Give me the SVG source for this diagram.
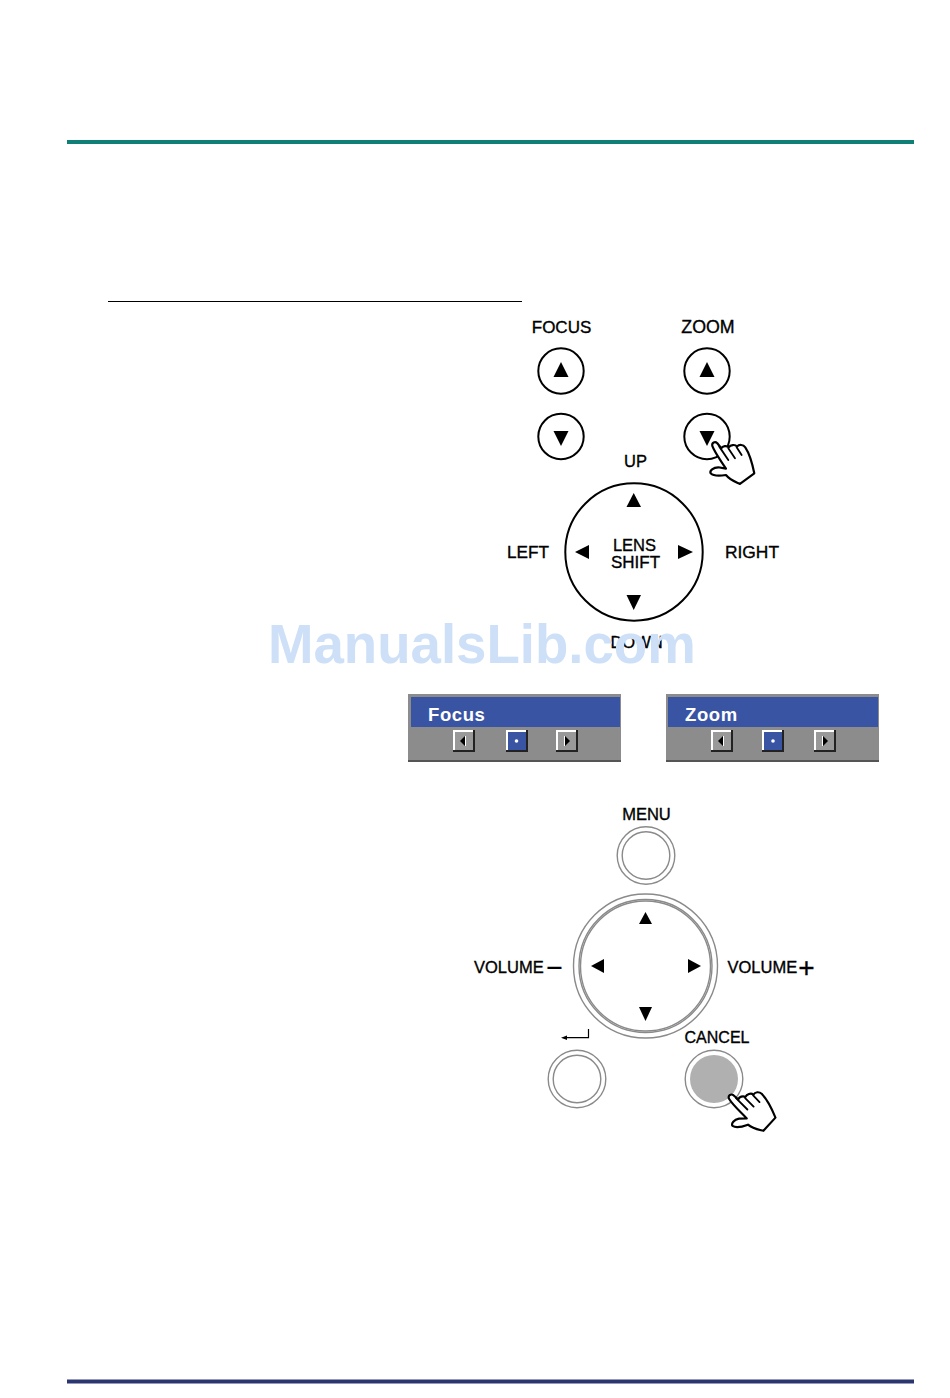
<svg xmlns="http://www.w3.org/2000/svg" width="950" height="1398" viewBox="0 0 950 1398">
<style>
.l{font-family:"Liberation Sans",Arial,sans-serif;font-size:16.5px;fill:#000;stroke:#000;stroke-width:.35}
.c{text-anchor:middle}
.b{fill:#fff;stroke:#000;stroke-width:2}
.g{fill:#fff;stroke:#8a8a8a;stroke-width:1.4}
.t{fill:#000}
.pt{font-family:"Liberation Sans",Arial,sans-serif;font-weight:700;font-size:18.5px;letter-spacing:.6px;fill:#fff}
.hand{fill:#fff;stroke:#000;stroke-width:6.500;stroke-linejoin:round;stroke-linecap:round}
.fing{fill:none;stroke:#000;stroke-width:5.500;stroke-linecap:round}
.btn{fill:#999;stroke:none}
.hl{fill:#fff}.sd{fill:#222}
</style>
<defs>
<g id="handShape">
<path class="hand" d="M-3,11C-5,1 5,-4 12,3L24,18C28,11 40,9 46,15C52,8 65,5 71,13C78,5 90,7 96,15C108,33 118,68 123,93L80,125C65,118 50,113 38,98C20,101 0,101 -8,93C-12,85 0,75 15,75L38,79C25,58 5,33 -3,11Z"/>
<path class="fing" d="M18,13L45,53M45,18L65,48M70,15L85,38"/>
</g>
<g id="btnFrame">
<rect class="sd" x="0" y="0" width="22" height="22"/>
<rect class="hl" x="0" y="0" width="20" height="20"/>
<rect class="btn" x="2" y="2" width="18" height="18"/>
</g>
</defs>

<g id="page-rules">
<rect x="67" y="140" width="847" height="4" fill="#0f7f78"/>
<rect x="67" y="1379.500" width="847" height="4" fill="#2b3570"/>
<rect x="108" y="301" width="414" height="1" fill="#000"/>
</g>

<g id="focus-zoom-buttons">
<text class="l c" x="561.500" y="333" font-size="17" style="font-size:17px">FOCUS</text>
<text class="l c" x="708" y="333" style="font-size:17.800px">ZOOM</text>
<circle class="b" cx="561" cy="371" r="22.700"/>
<polygon class="t" points="561,362 568.500,377 553.500,377"/>
<circle class="b" cx="561" cy="436.500" r="22.700"/>
<polygon class="t" points="553.500,431 568.500,431 561,446"/>
<circle class="b" cx="707" cy="371" r="22.700"/>
<polygon class="t" points="707,362 714.500,377 699.500,377"/>
<circle class="b" cx="707" cy="436.500" r="22.700"/>
<polygon class="t" points="699.500,431 714.500,431 707,446"/>
<use href="#handShape" transform="translate(713.300,442.300) scale(.3333)"/>
</g>

<g id="lens-shift">
<circle class="b" cx="634" cy="552" r="68.700"/>
<polygon class="t" points="633.700,493 641,507 626.500,507"/>
<polygon class="t" points="575,552 589,545 589,559"/>
<polygon class="t" points="693,552 678,545 678,559"/>
<polygon class="t" points="626.500,595 641,595 633.700,610"/>
<text class="l c" x="635.500" y="467">UP</text>
<text class="l c" x="528" y="558" style="font-size:17.200px">LEFT</text>
<text class="l c" x="752" y="558" style="font-size:17.400px">RIGHT</text>
<text class="l c" x="634.500" y="551">LENS</text>
<text class="l c" x="635.500" y="568" style="font-size:17px">SHIFT</text>
<text class="l c" x="636.500" y="648">DOWN</text>
</g>

<g id="focus-panel">
<rect x="408" y="694" width="213" height="68" fill="#8c8c8c"/>
<rect x="408" y="760" width="213" height="2" fill="#555"/>
<rect x="411" y="697" width="209" height="30" fill="#3a54a4"/>
<text class="pt" x="428" y="721">Focus</text>
<use href="#btnFrame" x="453" y="730"/>
<polygon class="t" points="460,741 465,736 465,746"/>
<rect x="465" y="736" width="1" height="10" fill="#fff"/>
<use href="#btnFrame" x="506" y="730"/>
<rect x="508" y="732" width="18" height="18" fill="#3a54a4"/>
<circle cx="516.500" cy="741" r="1.800" fill="#fff"/>
<use href="#btnFrame" x="556" y="730"/>
<polygon class="t" points="570,741 565,736 565,746"/>
<rect x="564" y="736" width="1" height="10" fill="#fff"/>
</g>

<g id="zoom-panel">
<rect x="666" y="694" width="213" height="68" fill="#8c8c8c"/>
<rect x="666" y="760" width="213" height="2" fill="#555"/>
<rect x="668" y="697" width="210" height="30" fill="#3a54a4"/>
<text class="pt" x="685" y="721">Zoom</text>
<use href="#btnFrame" x="711" y="730"/>
<polygon class="t" points="718,741 723,736 723,746"/>
<rect x="723" y="736" width="1" height="10" fill="#fff"/>
<use href="#btnFrame" x="762" y="730"/>
<rect x="764" y="732" width="18" height="18" fill="#3a54a4"/>
<circle cx="773" cy="741" r="1.800" fill="#fff"/>
<use href="#btnFrame" x="814" y="730"/>
<polygon class="t" points="828,741 823,736 823,746"/>
<rect x="822" y="736" width="1" height="10" fill="#fff"/>
</g>

<g id="menu-button">
<text class="l c" x="646.500" y="819.500">MENU</text>
<circle class="g" cx="646" cy="855.500" r="28.800"/>
<circle class="g" cx="646" cy="855.500" r="23.800"/>
</g>

<g id="volume-pad">
<circle class="g" cx="645.500" cy="966" r="72"/>
<circle class="g" cx="645.500" cy="966" r="66.500"/>
<circle class="g" cx="645.500" cy="966" r="65"/>
<polygon class="t" points="645.500,912 652,924 639,924"/>
<polygon class="t" points="591,966 604,959 604,973"/>
<polygon class="t" points="701,966 688,959 688,973"/>
<polygon class="t" points="639,1007 652,1007 645.500,1021"/>
<text class="l" x="474" y="972.500">VOLUME<tspan style="font-size:28px" dx="2.500" dy="4.500">−</tspan></text>
<text class="l" x="727.500" y="972.500">VOLUME<tspan style="font-size:28px" dx="1" dy="4.500">+</tspan></text>
</g>

<g id="enter-button">
<path d="M566,1037.700H588.500V1029" fill="none" stroke="#000" stroke-width="1.200"/>
<polygon class="t" points="561,1037.700 567,1035.500 567,1040"/>
<circle class="g" cx="577" cy="1079" r="28.800"/>
<circle class="g" cx="577" cy="1079" r="23.800"/>
</g>

<g id="cancel-button">
<text class="l c" x="717" y="1043" style="font-size:16px">CANCEL</text>
<circle class="g" cx="714" cy="1079" r="28.800"/>
<circle cx="714" cy="1079" r="24" fill="#b0b0b0"/>
<use href="#handShape" transform="translate(729.300,1095) rotate(-11) scale(.3333)"/>
</g>

<g id="watermark">
<text x="268" y="663" font-family="Liberation Sans,Arial,sans-serif" font-weight="700" font-size="54.600" fill="#cde0f7">ManualsLib.com</text>
</g>
</svg>
